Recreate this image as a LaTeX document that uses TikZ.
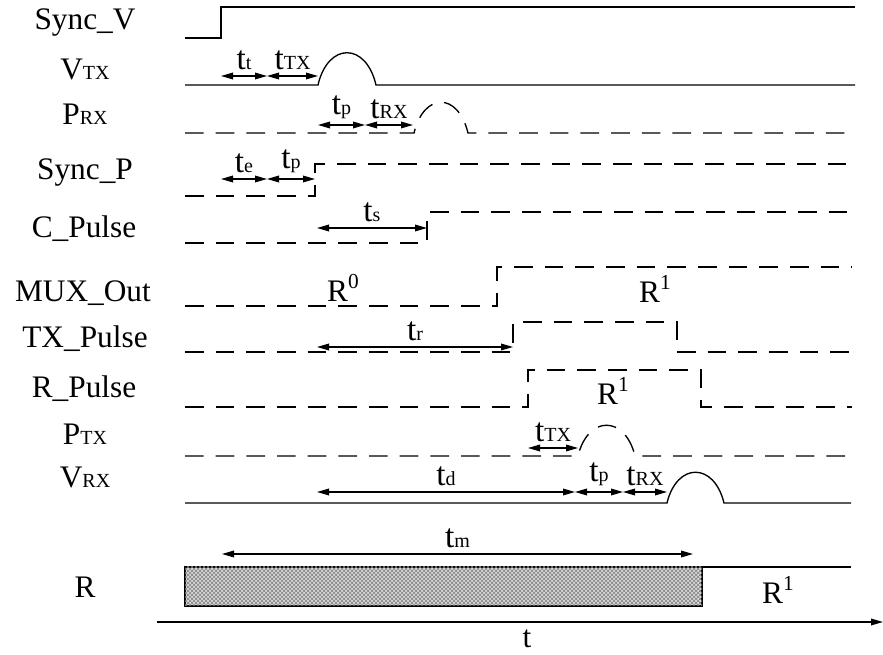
\documentclass[tikz,border=0pt]{standalone}
\usepackage{fontspec}
\setmainfont{Liberation Serif}
\usetikzlibrary{arrows.meta,patterns}
\newcommand\sub[1]{{\fontsize{15}{15}\selectfont #1}}
\newcommand\supr[1]{\raisebox{10pt}{\fontsize{16}{16}\selectfont #1}}

\begin{document}
\begin{tikzpicture}[x=0.75pt,y=-0.75pt,
    sig/.style={line width=1pt},
    dsig/.style={line width=1pt, dash pattern=on 14pt off 9pt},
    tarrow/.style={line width=0.9pt, {Triangle[length=9pt,width=5pt]}-{Triangle[length=9pt,width=5pt]}},
    lbl/.style={anchor=base, inner sep=0pt, font=\fontsize{23.5}{26}\selectfont},
    tlbl/.style={above=4pt, inner sep=0pt, font=\fontsize{25}{27}\selectfont}]
    \useasboundingbox (0,0) rectangle (883,655);

    % signal names
    \node[lbl] (syncv) at (85,30) {Sync\_V};
    \node[lbl] (vtx) at (85,80) {V\sub{TX}};
    \node[lbl] (prx) at (85,125) {P\sub{RX}};
    \node[lbl] (syncp) at (85,180) {Sync\_P};
    \node[lbl] (cpulse) at (84,238) {C\_Pulse};
    \node[lbl] (muxout) at (83,302) {MUX\_Out};
    \node[lbl] (txpulse) at (85,348) {TX\_Pulse};
    \node[lbl] (rpulse) at (84,398) {R\_Pulse};
    \node[lbl] (ptx) at (85,445) {P\sub{TX}};
    \node[lbl] (vrx) at (85,488) {V\sub{RX}};
    \node[lbl] (r) at (85,598) {R};

    % waveforms
    \draw[sig] (185,38) -- (221,38) -- (221,7) -- (855,7);
    \draw[sig] (185,85) -- (318,85) .. controls +(10,-43) and +(-10,-43) .. (376,85) -- (855,85);
    \draw[dsig] (185,133) -- (414,133) .. controls +(10,-41) and +(-10,-41) .. (468,133) -- (852,133);
    \draw[dsig] (185,196) -- (315,196) -- (315,164) -- (852,164);
    \draw[dsig] (185,243) -- (427,243) -- (427,212) -- (852,212);
    \draw[dsig] (185,306) -- (497,306) -- (497,267) -- (852,267);
    \draw[dsig] (185,352) -- (513,352) -- (513,322) -- (677,322) -- (677,352) -- (852,352);
    \draw[dsig] (185,407) -- (528,407) -- (528,370) -- (701,370) -- (701,407) -- (852,407);
    \draw[dsig] (185,456) -- (578,456) .. controls +(10,-41) and +(-10,-41) .. (635,456) -- (852,456);
    \draw[sig] (185,503) -- (667,503) .. controls +(10,-41) and +(-10,-41) .. (724,503) -- (851,503);
    \draw[line width=0.8pt, fill=gray!30, postaction={pattern=crosshatch, pattern color=gray}] (185,567) rectangle (702,606);
    \draw[sig] (702,567) -- (851,567);

    % register contents
    \node[lbl] (r0) at (343,302) {R\supr{0}};
    \node[lbl] (r1mux) at (655,303) {R\supr{1}};
    \node[lbl] (r1pulse) at (613,405) {R\supr{1}};
    \node[lbl] (r1reg) at (778,604) {R\supr{1}};

    % time marks
    \coordinate (a0) at (221,76); \coordinate (a1) at (267,76); \coordinate (a2) at (318,76);
    \coordinate (b0) at (318,125); \coordinate (b1) at (365,125); \coordinate (b2) at (413,125);
    \coordinate (c0) at (221,179); \coordinate (c1) at (267,179); \coordinate (c2) at (315,179);
    \coordinate (d0) at (317,228); \coordinate (d1) at (427,228);
    \coordinate (e0) at (317,347); \coordinate (e1) at (513,347);
    \coordinate (f0) at (528,448); \coordinate (f1) at (578,448);
    \coordinate (g0) at (317,492); \coordinate (g1) at (575,492); \coordinate (g2) at (623,492); \coordinate (g3) at (667,492);
    \coordinate (h0) at (222,554); \coordinate (h1) at (693,554);

    \draw[tarrow] (a0) -- node[tlbl] (tt) {t\sub{t}} (a1);
    \draw[tarrow] (a1) -- node[tlbl] (ttx) {t\sub{TX}} (a2);
    \draw[tarrow] (b0) -- node[tlbl] (tp1) {t\sub{p}} (b1);
    \draw[tarrow] (b1) -- node[tlbl] (trx1) {t\sub{RX}} (b2);
    \draw[tarrow] (c0) -- node[tlbl] (te) {t\sub{e}} (c1);
    \draw[tarrow] (c1) -- node[tlbl] (tp2) {t\sub{p}} (c2);
    \draw[tarrow] (d0) -- node[tlbl] (ts) {t\sub{s}} (d1);
    \draw[tarrow] (e0) -- node[tlbl] (tr) {t\sub{r}} (e1);
    \draw[tarrow] (f0) -- node[tlbl] (ttx2) {t\sub{TX}} (f1);
    \draw[tarrow] (g0) -- node[tlbl] (td) {t\sub{d}} (g1);
    \draw[tarrow] (g1) -- node[tlbl] (tp3) {t\sub{p}} (g2);
    \draw[tarrow] (g2) -- node[tlbl] (trx2) {t\sub{RX}} (g3);
    \draw[tarrow] (h0) -- node[tlbl] (tm) {t\sub{m}} (h1);

    % time axis
    \coordinate (ax0) at (157,622); \coordinate (ax1) at (883,622);
    \draw[line width=1pt, -{Triangle[length=9pt,width=5pt]}] (ax0) -- (ax1);
    \node[lbl] (taxis) at (527,648) {t};
\end{tikzpicture}
\end{document}
